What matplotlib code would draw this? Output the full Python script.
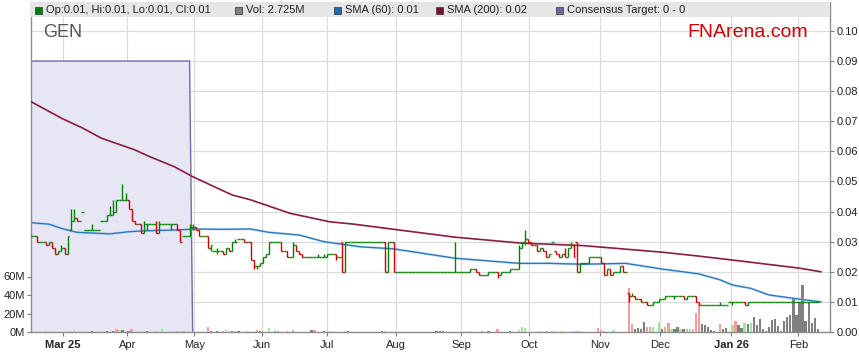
import numpy as np
import matplotlib.pyplot as plt
from matplotlib.patches import Rectangle

plt.rcParams['font.family'] = ['Liberation Sans', 'DejaVu Sans']

# -------------------------------------------------
# Data  (prices in thousandths of a dollar, volume in millions)
# one entry per trading day, day 0 = mid Feb 2025
# -------------------------------------------------
close_mils = [
    32, 32, 30, 30, 30, 29, 30, 28, 26, 27,
    28, 26, 32, 37, 38, 37, 37, 40, 34, 34,
    34, 34, 34, 37, 37, 39, 39, 40, 44, 44,
    44, 44, 41, 37, 36, 36, 33, 36, 36, 36,
    36, 33, 36, 36, 36, 36, 36, 36, 34, 30,
    32, 32, 35, 35, 34, 32, 32, 32, 28, 29,
    27, 27, 27, 26, 28, 27, 30, 30, 31, 31,
    30, 30, 24, 22, 22, 23, 25, 26, 30, 30,
    30, 30, 27, 27, 25, 25, 29, 27, 26, 25,
    25, 25, 25, 25, 25, 25, 25, 26, 26, 26,
    25, 25, 20, 30, 30, 30, 30, 30, 30, 30,
    30, 30, 30, 30, 30, 30, 20, 30, 30, 20,
    20, 20, 20, 20, 20, 20, 20, 20, 20, 20,
    20, 20, 20, 20, 20, 20, 20, 20, 20, 20,
    20, 20, 20, 20, 21, 21, 20, 19, 19, 19,
    20, 20, 20, 19, 20, 20, 20, 21, 21, 21,
    28, 30, 31, 30, 29, 29, 27, 28, 27, 25,
    26, 30, 26, 25, 26, 25, 28, 29, 25, 20,
    23, 23, 23, 25, 25, 25, 25, 23, 19, 21,
    19, 20, 20, 22, 20, 20, 12, 12, 11, 11,
    10, 10, 9, 9, 10, 10, 11, 11, 12, 12,
    12, 12, 12, 12, 11, 12, 12, 12, 10, 9,
    9, 9, 9, 9, 9, 9, 9, 9, 9, 10,
    10, 10, 10, 10, 9, 10, 10, 10, 10, 10,
    10, 10, 10, 10, 10, 10, 10, 10, 10, 10,
    10, 10, 10, 10, 10, 10, 10, 10, 10,
]
# opens differ from the previous close only on these days
open_gaps = {13: 34, 17: 40, 18: 34, 23: 37, 50: 32, 60: 27, 68: 31, 102: 30,
             171: 30, 172: 27, 179: 30, 196: 13, 229: 10}
high_marks = {10: 29, 12: 32, 13: 41, 14: 41, 20: 36, 26: 42, 27: 44, 30: 49,
              31: 46, 37: 37, 41: 37, 42: 37, 52: 36, 53: 36, 58: 30, 61: 28,
              66: 30, 67: 31, 72: 30, 86: 30, 94: 26, 96: 26, 139: 30, 160: 29,
              162: 34, 175: 28, 177: 30, 197: 13, 211: 12, 226: 10}
low_marks = {8: 26, 11: 26, 12: 28, 38: 34, 42: 34, 46: 34, 53: 34, 59: 27,
             61: 26, 73: 21, 74: 21, 100: 24, 153: 18, 162: 29, 170: 25,
             196: 10, 211: 11, 230: 9}

vol_days = [5, 12, 13, 14, 20, 25, 27, 28, 29, 30, 32, 33, 38, 41, 43, 48, 50,
            58, 59, 61, 63, 64, 66, 67, 68, 71, 74, 75, 78, 80, 81, 84, 86, 92,
            93, 96, 98, 103, 104, 115, 116,
            133, 134, 135, 144, 148, 150, 153, 157, 160, 161, 162, 167, 169,
            171, 174, 178, 179, 180, 186, 187, 188, 191,
            196, 197, 198, 199, 200, 201, 202, 203, 204, 206, 207, 208, 209,
            210, 211, 212, 213, 214, 215, 216, 217, 218, 219, 220, 221, 222,
            223, 224, 226, 227, 228, 230, 231, 232, 233, 234, 235, 236, 237,
            238, 239, 240, 241, 242, 243, 244, 245, 246, 247, 248, 249, 250,
            251, 252, 253, 254, 255, 256, 257, 258]
vol_millions = [1.4, 1.0, 1.0, 2.0, 1.4, 1.4, 1.0, 3.6, 2.5, 2.5, 1.4, 3.6, 1.4,
                1.4, 3.6, 1.4, 1.4,
                5.8, 1.4, 1.4, 1.4, 2.0, 1.4, 1.4, 1.4, 1.4, 2.5, 1.4, 4.7, 2.5,
                1.4, 1.4, 2.5, 2.5, 2.5, 1.4, 1.4, 1.4, 1.4, 1.4, 1.4,
                1.0, 1.0, 1.0, 1.0, 1.0, 1.0, 3.6, 1.4, 2.2, 5.8, 4.3, 0.7, 0.7,
                0.7, 0.7, 1.0, 1.0, 0.7, 4.0, 2.2, 1.4, 2.2,
                47.2, 8.6, 2.9, 4.3, 2.9, 11.2, 5.8, 5.0, 5.0, 11.2, 2.9, 5.8,
                10.1, 2.9, 2.9, 5.8, 2.9, 2.9, 2.9, 2.9, 2.9, 20.2, 29.9, 8.6,
                7.2, 5.0, 2.2, 1.4, 8.6, 2.9, 4.3, 7.6, 11.9, 7.6, 4.0, 10.1,
                8.6, 10.1, 16.6, 7.6, 14.4, 2.9, 1.4, 5.8, 13.0, 14.4, 6.5, 0.7,
                12.2, 16.6, 18.4, 36.7, 18.0, 32.8, 50.8, 12.2, 31.7, 10.1, 15.5,
                3.2]
# u = up day, d = down day, n = unchanged
vol_dir = ("d u u u n n n d u n n d n d u d d "
           "d n n d u n u n u d n u u d d d n d n u u n n d "
           "n n n u d n d n u u u u d u u d d u d d d u "
           "d d n n n n d d u u n d d u n n u n d u d d d n n n "
           "n n d n n u d n n u n u n n n n n n n n n n n n n n n n n n n n n n").split()

sma60_days = [0, 6, 10, 15, 26, 32, 37, 48, 54, 63, 72, 78, 88, 96, 108, 119,
              139, 160, 170, 181, 195, 207, 219, 226, 230, 236, 242, 252, 259]
sma60_mils = [36.3, 35.8, 34.4, 33.1, 32.6, 33.3, 33.6, 33.9, 34.2, 34.1, 34.2,
              33.1, 32.2, 30.0, 28.3, 27.6, 24.5, 22.8, 22.8, 22.5, 22.8, 20.9,
              19.3, 17.3, 15.6, 14.5, 12.3, 10.9, 10.0]
sma200_days = [0, 10, 17, 23, 34, 39, 47, 53, 60, 66, 72, 85, 98, 106, 119, 139,
               161, 181, 207, 219, 230, 252, 259]
sma200_mils = [76.5, 71.0, 67.7, 64.4, 60.5, 58.2, 54.9, 51.6, 48.3, 45.5, 43.9,
               39.4, 36.6, 35.8, 34.1, 31.5, 29.5, 28.7, 26.5, 25.2, 23.9, 21.2,
               20.0]

target_value = 0.09
target_last_day = 52

month_days = [10.4, 31.6, 53.5, 75.6, 97, 119.8, 141.1, 163.2, 186.6, 206.3,
              229.7, 251.6]
month_labels = ["Mar 25", "Apr", "May", "Jun", "Jul", "Aug", "Sep", "Oct",
                "Nov", "Dec", "Jan 26", "Feb"]

# -------------------------------------------------
# Build OHLC
# -------------------------------------------------
close = np.array(close_mils) / 1000
days = np.arange(len(close))
opn = np.concatenate([[close[0]], close[:-1]])
for d, v in open_gaps.items():
    opn[d] = v / 1000
high = np.maximum(opn, close)
low = np.minimum(opn, close)
for d, v in high_marks.items():
    high[d] = max(high[d], v / 1000)
for d, v in low_marks.items():
    low[d] = min(low[d], v / 1000)
up = close >= opn
bar_col = np.where(up, "#008000", "#CC0000")

target = np.where(days <= target_last_day, target_value, 0.0)

vol_col = {"u": "#98EC98", "d": "#F59C9C", "n": "#808080"}

# -------------------------------------------------
# Figure
# -------------------------------------------------
W, H = 859, 363
fig = plt.figure(figsize=(W / 100, H / 100), dpi=100)
ax = fig.add_axes([31 / W, 31 / H, 799 / W, 330 / H])
ax_vol = ax.twinx()
ax_top = ax.twinx()
ax.set_zorder(0)
ax_vol.set_zorder(1)
ax_top.set_zorder(2)

ymax = 0.1096
for a in (ax, ax_top):
    a.set_ylim(0, ymax)
ax.set_xlim(0, 262)
ax_vol.set_ylim(0, 330 / 18.5 * 20)

# background: grid + consensus target
ax.set_axisbelow(True)
ax.set_yticks(np.arange(0, 0.101, 0.01))
ax.set_xticks(month_days)
ax.grid(True, color="#DCDCDC", lw=0.9)
ax.fill_between(days[:target_last_day + 2], target[:target_last_day + 2],
                color="#E6E6F5", lw=0, zorder=1)
ax.plot(days[:target_last_day + 2], target[:target_last_day + 2],
        color="#6E6EAA", lw=1.0, zorder=2)

# volume
ax_vol.bar(vol_days, vol_millions, width=0.75,
           color=[vol_col[c] for c in vol_dir], lw=0)

# SMAs and OHLC bars
ax_top.plot(sma200_days, np.array(sma200_mils) / 1000, color="#8A1C44", lw=1.2)
ax_top.plot(sma60_days, np.array(sma60_mils) / 1000, color="#9CC6E8", lw=1.7, alpha=0.7)
ax_top.plot(sma60_days, np.array(sma60_mils) / 1000, color="#2677BC", lw=0.9)
ax_top.vlines(days, low, high, colors=bar_col, lw=1.0)
ax_top.hlines(opn, days - 0.5, days, colors=bar_col, lw=1.0)
ax_top.hlines(close, days, days + 0.5, colors=bar_col, lw=1.0)

# -------------------------------------------------
# Axes styling
# -------------------------------------------------
ax.yaxis.tick_right()
ax.set_yticklabels([f"{v:.2f}" for v in np.arange(0, 0.101, 0.01)])
ax.set_xticklabels(month_labels)
for i in (0, 10):
    ax.get_xticklabels()[i].set_fontweight("bold")
ax.tick_params(axis="y", length=3, pad=2, color="#808080", labelsize=8, labelcolor="#222222")
ax.tick_params(axis="x", length=3, pad=3, color="#808080", labelsize=8, labelcolor="#222222")

ax_vol.yaxis.tick_left()
ax_vol.set_yticks([0, 20, 40, 60])
ax_vol.set_yticklabels(["0M", "20M", "40M", "60M"])
ax_vol.tick_params(axis="y", length=3, pad=1.5, color="#808080", labelsize=8, labelcolor="#222222")
ax_top.set_yticks([])

for a in (ax_vol, ax_top):
    for s in a.spines.values():
        s.set_visible(False)
ax.spines["top"].set_visible(False)
for s in ("left", "bottom", "right"):
    ax.spines[s].set_color("#8C8C8C")
    ax.spines[s].set_linewidth(1.0)

# legend bar
bar_y0 = (332 - 17) / 330
ax_top.add_patch(Rectangle((0, bar_y0), 1, 1 - bar_y0, transform=ax_top.transAxes,
                           facecolor="#E6E6E6", edgecolor="none", zorder=20, clip_on=False))

legend_items = [
    (35, "#008000", "Op:0.01, Hi:0.01, Lo:0.01, Cl:0.01"),
    (235, "#808080", "Vol: 2.725M"),
    (334, "#1F6DB0", "SMA (60): 0.01"),
    (436, "#7A1030", "SMA (200): 0.02"),
    (556, "#6A6A9A", "Consensus Target: 0 - 0"),
]
for x, c, label in legend_items:
    fig.patches.append(Rectangle((x / W, (H - 13.5) / H), 7 / W, 7 / H,
                                 transform=fig.transFigure, facecolor=c,
                                 edgecolor="#444444", lw=0.6, zorder=30))
    fig.text((x + 11) / W, (H - 10) / H, label, fontsize=8, color="#222222",
             va="center", ha="left", zorder=31)

fig.text(43 / W, (H - 32.5) / H, "GEN", fontsize=13, color="#555555",
         va="center", ha="left")
fig.text(808 / W, (H - 32.5) / H, "FNArena.com", fontsize=14, color="#CC0000",
         va="center", ha="right")

fig.savefig("out.png", dpi=100)
